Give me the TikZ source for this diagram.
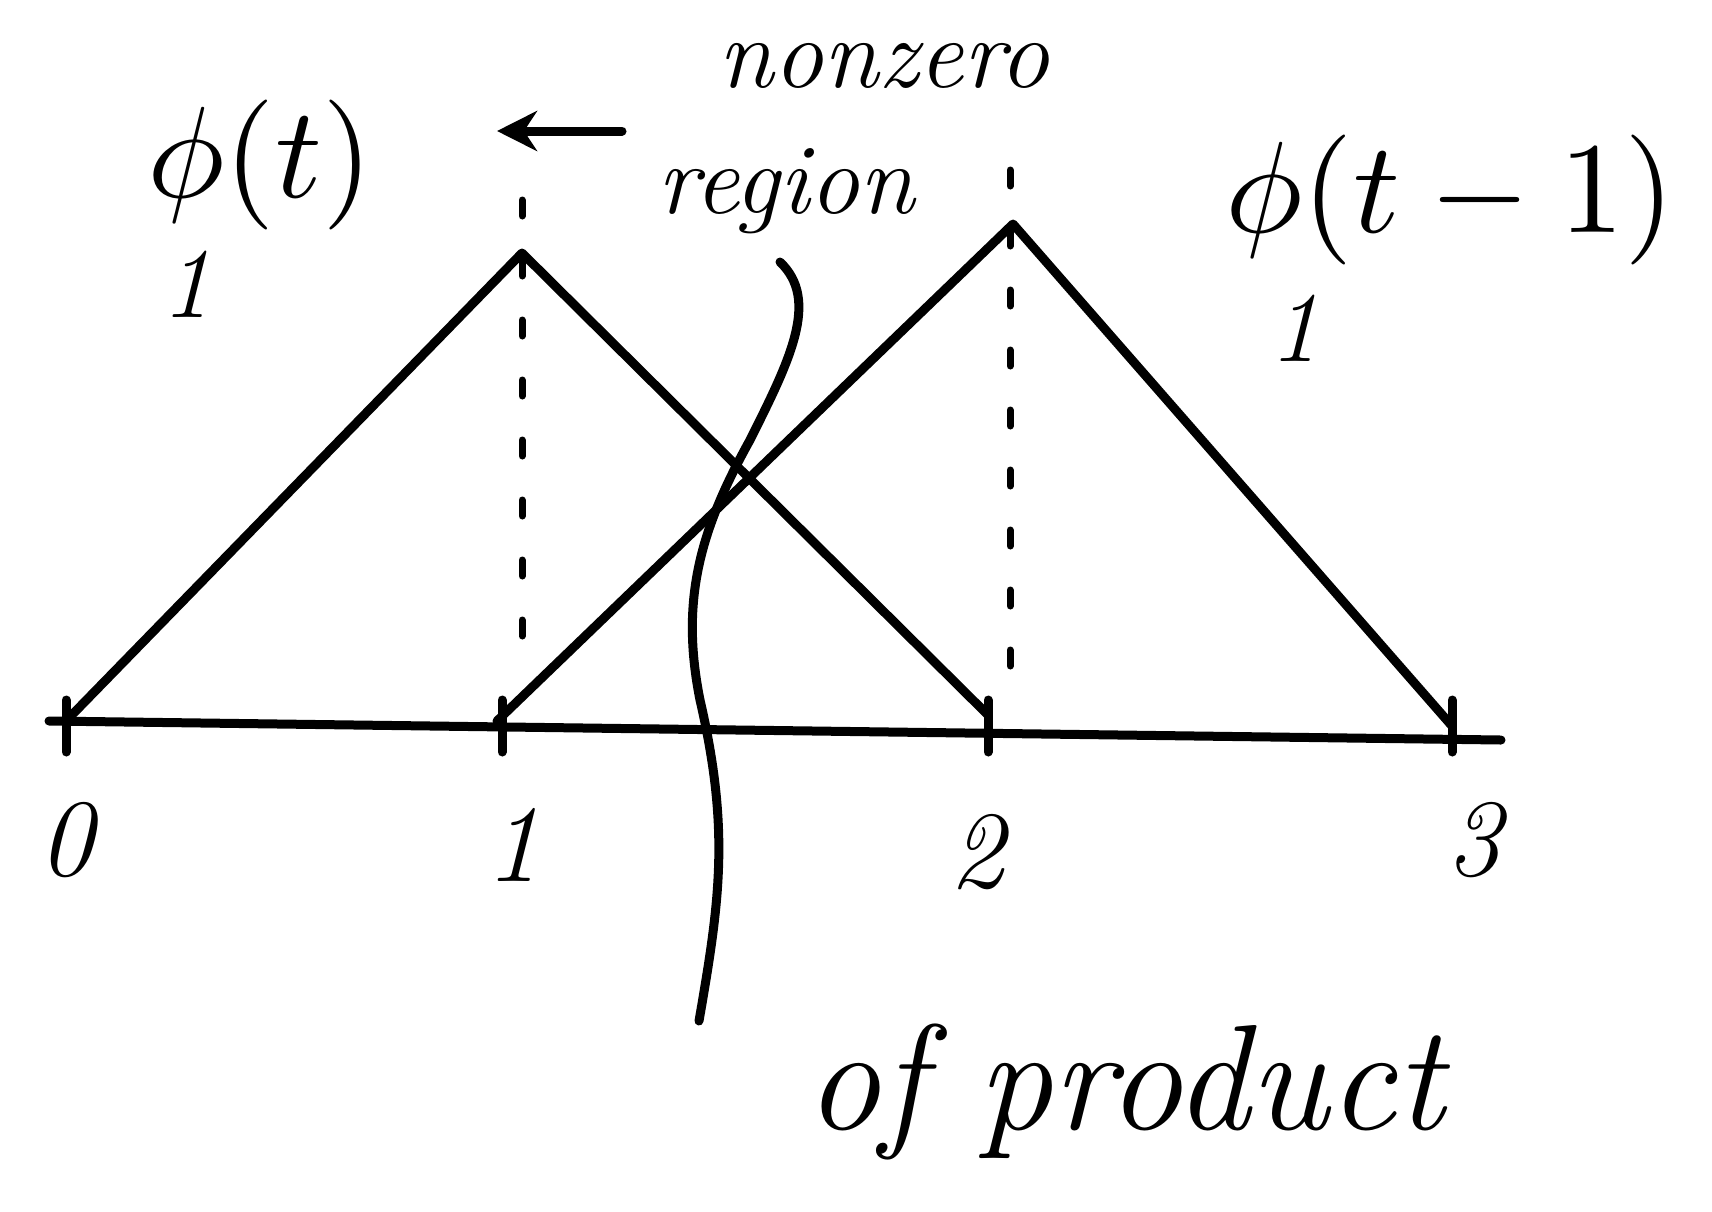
\documentclass[tikz,border=0pt]{standalone}
\usetikzlibrary{arrows.meta}
\begin{document}
\begin{tikzpicture}[x=1pt,y=-1pt,
  stroke/.style={line width=9pt,line cap=round,line join=round},
  dashline/.style={line width=7pt,dash pattern=on 16pt off 44pt,line cap=round},
  lbl/.style={font=\fontsize{110}{110}\selectfont\itshape,inner sep=0pt},
  big/.style={font=\fontsize{150}{150}\selectfont\itshape,inner sep=0pt},
  small/.style={font=\fontsize{100}{100}\selectfont\itshape,inner sep=0pt},
  mathlbl/.style={scale=13,inner sep=0pt}]
\useasboundingbox (0,0) rectangle (1712,1211);
% axis
\coordinate (a0) at (49,721);
\coordinate (a1) at (1501,740);
\draw[stroke] (a0) -- (a1);
% ticks
\foreach \x/\n in {66/0,502/1,988/2,1452/3}{
  \coordinate (t\n a) at (\x,700);
  \coordinate (t\n b) at (\x,752);
  \draw[stroke] (t\n a) -- (t\n b);
}
% triangles
\coordinate (p0) at (66,721);
\coordinate (p1) at (522,253);
\coordinate (p2) at (988,715);
\coordinate (q0) at (497,721);
\coordinate (q1) at (1013,224);
\coordinate (q2) at (1452,726);
\draw[stroke] (p0) -- (p1) -- (p2);
\draw[stroke] (q0) -- (q1) -- (q2);
% dashed verticals
\coordinate (d1a) at (522,200);
\coordinate (d1b) at (522,636);
\coordinate (d2a) at (1010,170);
\coordinate (d2b) at (1010,700);
\draw[dashline] (d1a) -- (d1b);
\draw[dashline] (d2a) -- (d2b);
% axis labels
\node[lbl] (l0) at (66,840) {0};
\node[lbl] (l1) at (513,845) {1};
\node[lbl] (l2) at (977,852) {2};
\node[lbl] (l3) at (1474,840) {3};
% function labels
\node[mathlbl] (f1) at (260,165) {$\phi(t)$};
\node[small] (o1) at (186,284) {1};
\node[mathlbl] (f2) at (1450,200) {$\phi(t-1)$};
\node[small] (o2) at (1294,328) {1};
% nonzero region
\node[small] (nz) at (884,66) {nonzero};
\node[small] (rg) at (786,191) {region};
\coordinate (ar1) at (622,131);
\coordinate (ar2) at (497,131);
\draw[stroke,-{Stealth[length=40pt,width=40pt]}] (ar1) -- (ar2);
% curve
\coordinate (c0) at (780,262);
\coordinate (c1) at (699,1021);
\draw[stroke] (c0) .. controls (820,300) and (790,360) .. (750,440)
  .. controls (700,530) and (680,600) .. (700,700)
  .. controls (730,830) and (720,900) .. (c1);
\node[big] (op) at (1125,1092) {of product};
\end{tikzpicture}
\end{document}
